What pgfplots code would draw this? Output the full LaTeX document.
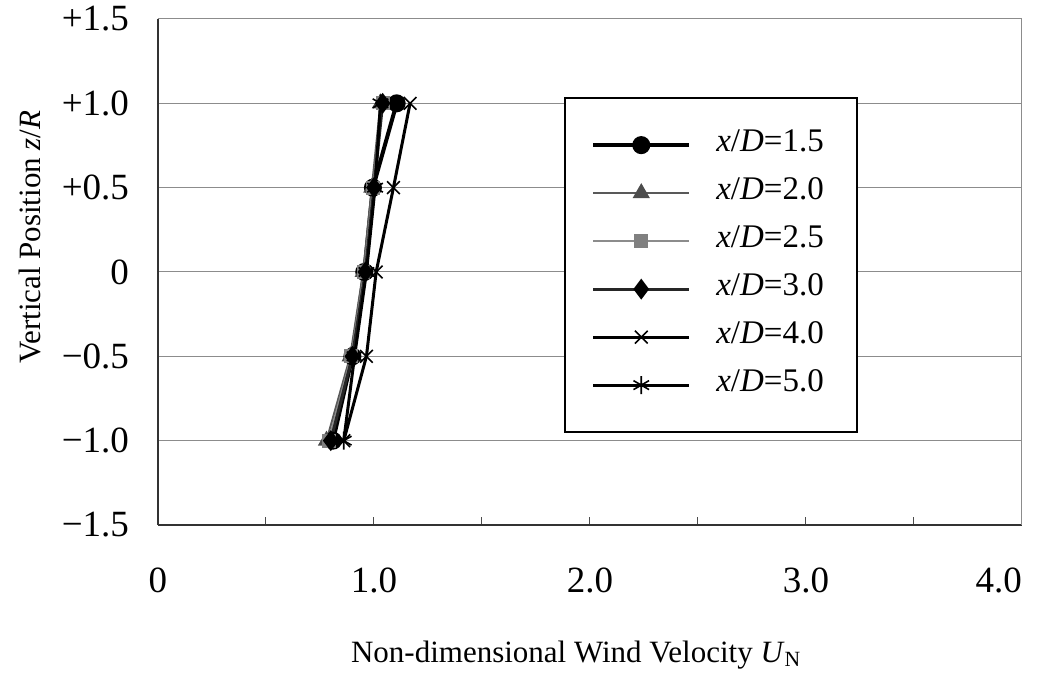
\documentclass[border=0pt]{standalone}
\usepackage{pgfplots}
\pgfplotsset{compat=1.18}
\usepackage{fontspec}
\setmainfont{Liberation Serif}
\begin{document}
\begin{tikzpicture}
\useasboundingbox (-79pt,-84.5pt) rectangle (441pt,262.5pt);
\begin{axis}[
  scale only axis,
  width=432pt, height=253pt,
  xmin=0, xmax=4, ymin=-1.5, ymax=1.5,
  xtick={0,0.5,...,4},
  xticklabels={0,,1.0,,2.0,,3.0,,\makebox[0pt][r]{4.0}},
  ytick={-1.5,-1,-0.5,0,0.5,1,1.5},
  yticklabels={−1.5,−1.0,−0.5,0,+0.5,+1.0,+1.5},
  tick align=inside,
  major tick length=4pt,
  ytick style={draw=none},
  xtick style={black!70, line width=0.5pt},
  ymajorgrids,
  grid style={black!45, line width=0.5pt},
  axis line style={black!80, line width=0.7pt},
  axis x line*=bottom, axis y line*=left,
  ticklabel style={font=\fontsize{18.5}{21}\selectfont},
  xticklabel style={anchor=center, yshift=-27.5pt},
  yticklabel style={anchor=east, xshift=-11pt},
  /pgf/number format/assume math mode=true,
  xlabel={Non-dimensional Wind Velocity \textit{U}\textsubscript{N}},
  ylabel={Vertical Position \textit{z}/\textit{R}},
  label style={font=\fontsize{15.5}{18}\selectfont},
  xlabel style={at={(axis description cs:0.484,-0.257)}, anchor=center},
  ylabel style={at={(axis description cs:-0.148,0.569)}, anchor=center, rotate=0},
  legend cell align=left,
  legend image code/.code={\draw[mark repeat=2,mark phase=2] plot coordinates {(0pt,0pt) (24pt,0pt) (48pt,0pt)};},
  legend style={at={(0.47,0.846)}, anchor=north west, draw=black, line width=1.2pt,
    font=\fontsize{16.5}{18}\selectfont,
    inner xsep=13pt, inner ysep=17.5pt, row sep=12pt, column sep=12.5pt,
    nodes={inner sep=0pt, text height=9pt, text depth=3pt, text width=57.5pt}},
]
\draw[black!45, line width=0.5pt] (rel axis cs:0,1) -- (rel axis cs:1,1) -- (rel axis cs:1,0);
\addplot[black, line width=2pt, mark=*, mark size=3.5pt, mark options={solid}] coordinates {
 (0.81,-1) (0.90,-0.5) (0.955,0) (0.995,0.5) (1.105,1)};
\addlegendentry{\textit{x}/\textit{D}=1.5}
\addplot[black!65, line width=1pt, mark=triangle*, mark size=4pt, mark options={solid, fill=black!70, draw=black!70}] coordinates {
 (0.78,-1) (0.89,-0.5) (0.95,0) (0.99,0.5) (1.03,1)};
\addlegendentry{\textit{x}/\textit{D}=2.0}
\addplot[black!45, line width=1pt, mark=square*, mark size=3pt, mark options={solid, fill=black!50, draw=black!50}] coordinates {
 (0.79,-1) (0.895,-0.5) (0.955,0) (0.995,0.5) (1.04,1)};
\addlegendentry{\textit{x}/\textit{D}=2.5}
\addplot[black!85, line width=1.5pt, mark=diamond*, mark size=4pt, mark options={solid, fill=black, draw=black}] coordinates {
 (0.80,-1) (0.90,-0.5) (0.96,0) (1.00,0.5) (1.04,1)};
\addlegendentry{\textit{x}/\textit{D}=3.0}
\addplot[black, line width=1.5pt, mark=x, mark size=4.5pt, mark options={solid, line width=0.8pt}] coordinates {
 (0.86,-1) (0.965,-0.5) (1.01,0) (1.09,0.5) (1.167,1)};
\addlegendentry{\textit{x}/\textit{D}=4.0}
\addplot[black, line width=1.5pt, mark=asterisk, mark size=4.5pt, mark options={solid, line width=0.8pt}] coordinates {
 (0.86,-1) (0.91,-0.5) (0.965,0) (1.005,0.5) (1.03,1)};
\addlegendentry{\textit{x}/\textit{D}=5.0}
\end{axis}
\end{tikzpicture}
\end{document}
